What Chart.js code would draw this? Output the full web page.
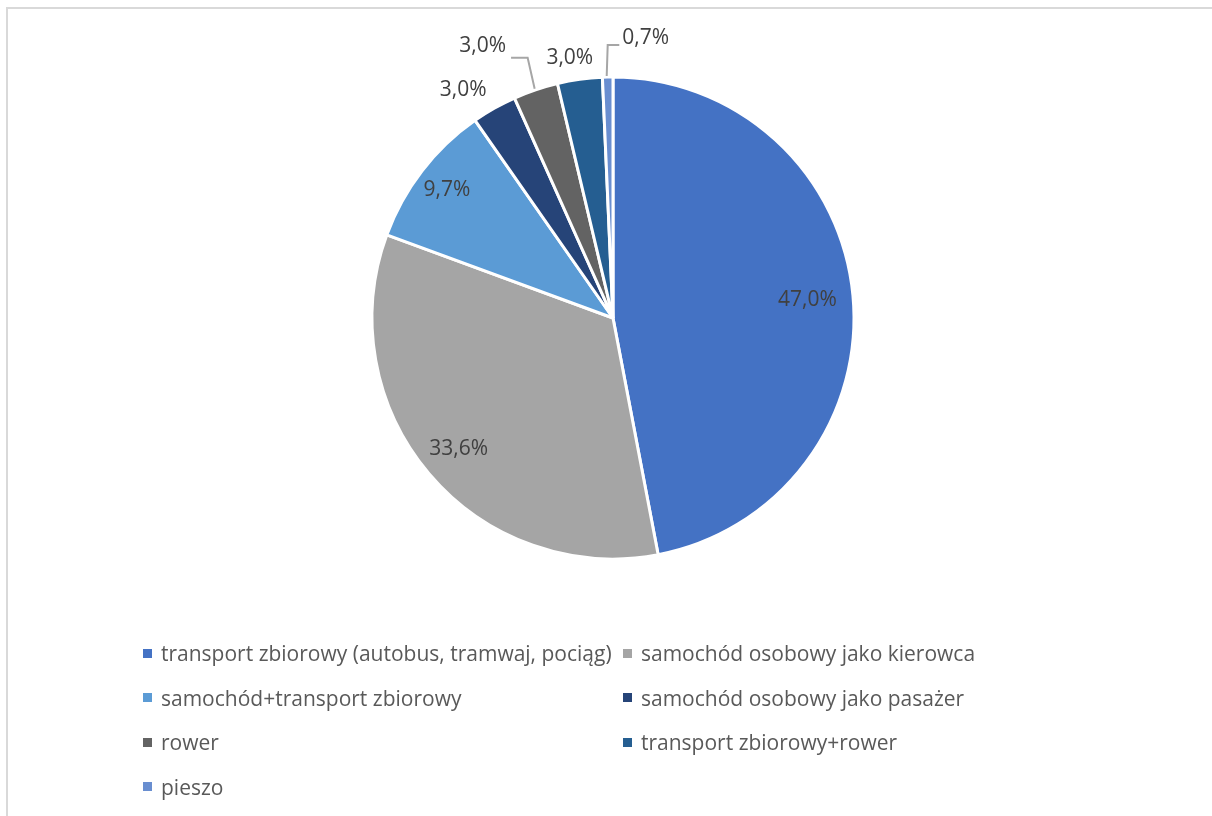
<!DOCTYPE html>
<html lang="pl">
<head>
<meta charset="utf-8">
<title>Sposób dojazdu</title>
<script src="https://cdn.jsdelivr.net/npm/chart.js@4/dist/chart.umd.min.js"></script>
<style>
  html, body { margin: 0; padding: 0; background: #fff; }
  body { width: 1212px; height: 816px; position: relative; overflow: hidden; font-family: "Open Sans", sans-serif; }
  #frame { position: absolute; left: 6px; top: 7px; width: 1300px; height: 900px; border-left: 2px solid #d9d9d9; border-top: 2px solid #d9d9d9; }
  #chartBox { position: absolute; left: 0; top: 0; width: 1212px; height: 816px; }
  #legend { position: absolute; left: 143px; top: 631px; display: grid; grid-template-columns: 480px 420px; row-gap: 0; }
  .item { height: 44.5px; display: flex; align-items: center; color: #595959; font-size: 21px; white-space: nowrap; }
  .box { width: 9px; height: 9px; margin-right: 9px; flex: none; }
</style>
</head>
<body>
<div id="frame"></div>
<div id="chartBox"><canvas id="myChart"></canvas></div>
<div id="legend"></div>
<script>
// Share of commute modes
var modes = [
  "transport zbiorowy (autobus, tramwaj, pociąg)",
  "samochód osobowy jako kierowca",
  "samochód+transport zbiorowy",
  "samochód osobowy jako pasażer",
  "rower",
  "transport zbiorowy+rower",
  "pieszo"
];
var shares = [47.0, 33.6, 9.7, 3.0, 3.0, 3.0, 0.7];
var sliceColors = [
  "#4472C4",
  "#A5A5A5",
  "#5B9BD5",
  "#264478",
  "#636363",
  "#255E91",
  "#698ED0"
];

// where each value label goes: inside at a fraction of the radius,
// or outside, nudged from the rim, with an optional leader line
var labelPlacement = [
  { inside: 0.81 },
  { inside: 0.84 },
  { inside: 0.87 },
  { dx: -31, dy: -18 },
  { dx: -53, dy: -44, leader: "left" },
  { dx: -10, dy: -21 },
  { dx: 38, dy: -39, leader: "right" }
];

function fmt(v) {
  return v.toFixed(1).replace(".", ",") + "%";
}

const pieLabels = {
  id: "pieLabels",
  afterDatasetsDraw(chart) {
    const ctx = chart.ctx;
    const arcs = chart.getDatasetMeta(0).data;
    ctx.save();
    ctx.font = "21px 'Open Sans', sans-serif";
    ctx.fillStyle = "#404040";
    ctx.textAlign = "center";
    ctx.textBaseline = "middle";
    arcs.forEach((arc, i) => {
      const p = labelPlacement[i];
      const mid = (arc.startAngle + arc.endAngle) / 2;
      const r = arc.outerRadius;
      const text = fmt(shares[i]);
      if (p.inside) {
        ctx.fillText(text, arc.x + Math.cos(mid) * r * p.inside, arc.y + Math.sin(mid) * r * p.inside);
        return;
      }
      const rimX = arc.x + Math.cos(mid) * r;
      const rimY = arc.y + Math.sin(mid) * r;
      const lx = rimX + p.dx;
      const ly = rimY + p.dy;
      const w = ctx.measureText(text).width;
      if (p.leader) {
        ctx.strokeStyle = "#a6a6a6";
        ctx.lineWidth = 2;
        ctx.beginPath();
        ctx.moveTo(rimX - 1, rimY - 1);
        if (p.leader === "left") {
          ctx.lineTo(rimX - 8, ly + 12);
          ctx.lineTo(lx + w / 2 + 5, ly + 12);
        } else {
          ctx.lineTo(rimX, ly + 7);
          ctx.lineTo(lx - w / 2 - 3, ly + 7);
        }
        ctx.stroke();
      }
      ctx.fillText(text, lx, ly);
    });
    ctx.restore();
  }
};

const chart = new Chart("myChart", {
  type: "pie",
  data: {
    labels: modes,
    datasets: [{
      data: shares,
      backgroundColor: sliceColors,
      borderColor: "#ffffff",
      borderWidth: 3
    }]
  },
  options: {
    responsive: true,
    maintainAspectRatio: false,
    animation: false,
    radius: 241,
    layout: { padding: { top: 20, bottom: 200, left: 14, right: 0 } },
    plugins: {
      legend: { display: false },
      tooltip: { enabled: false }
    }
  },
  plugins: [pieLabels]
});

// legend in two columns, built from the chart's own labels
const legendEl = document.getElementById("legend");
chart.options.plugins.legend.labels.generateLabels(chart).forEach(item => {
  const row = document.createElement("div");
  row.className = "item";
  const box = document.createElement("span");
  box.className = "box";
  box.style.background = item.fillStyle;
  row.appendChild(box);
  row.appendChild(document.createTextNode(item.text));
  legendEl.appendChild(row);
});
</script>
</body>
</html>
